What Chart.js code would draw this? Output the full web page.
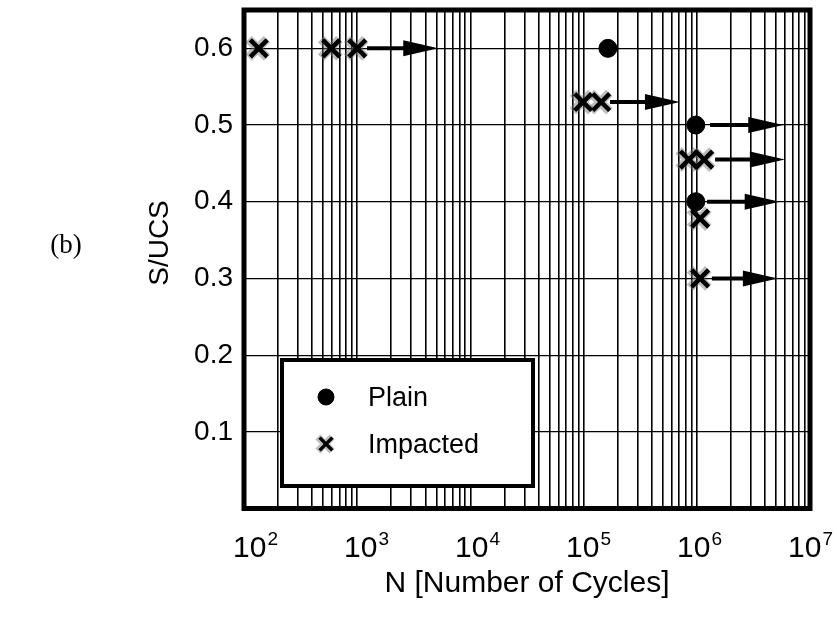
<!DOCTYPE html>
<html>
<head>
<meta charset="utf-8">
<title>S/UCS vs N</title>
<script src="https://cdn.jsdelivr.net/npm/chart.js@4.4.1/dist/chart.umd.min.js"></script>
<style>
  body { margin: 0; background: #fff; }
  canvas { display: block; }
</style>
</head>
<body>
<canvas id="fatigue-chart" width="837" height="618"></canvas>
<script>
// Plain specimens
const plainN = [1.64e5, 9.8e5, 9.8e5];
const plainS = [0.6, 0.5, 0.4];

// Impacted specimens
const impactedN = [1.35e2, 5.9e2, 1.0e3, 9.9e4, 1.43e5, 8.5e5, 1.16e6, 1.07e6, 1.07e6];
const impactedS = [0.6, 0.6, 0.6, 0.53, 0.53, 0.455, 0.455, 0.378, 0.3];

// Run-outs (no failure): arrow from runoutFrom to runoutTo at level runoutS
const runoutS = [0.6, 0.53, 0.5, 0.455, 0.4, 0.3];
const runoutFrom = [1.22e3, 1.71e5, 1.31e6, 1.45e6, 1.23e6, 1.36e6];
const runoutTo = [5.2e3, 7.1e5, 5.8e6, 6.0e6, 5.4e6, 5.2e6];

// Axis ticks
const yTicks = [0.1, 0.2, 0.3, 0.4, 0.5, 0.6];
const decades = [2, 3, 4, 5, 6, 7];

const FONT = "'Liberation Sans', Arial, sans-serif";
Chart.defaults.font.family = FONT;
Chart.defaults.color = '#000';

function toPoints(xs, ys) {
  return xs.map((v, i) => ({ x: v, y: ys[i] }));
}

// log grid: 1..9 in every decade, plus the last decade line
function logGridValues() {
  const vals = [];
  decades.slice(0, -1).forEach(d => {
    for (let m = 1; m <= 9; m++) vals.push(m * Math.pow(10, d));
  });
  vals.push(Math.pow(10, decades[decades.length - 1]));
  return vals;
}

// grey halftone halo behind the impacted crosses
const markerHalo = {
  id: 'markerHalo',
  beforeDatasetsDraw(chart) {
    const { ctx } = chart;
    const meta = chart.getDatasetMeta(1);
    ctx.save();
    ctx.strokeStyle = 'rgba(110,110,110,0.45)';
    ctx.lineWidth = 9;
    meta.data.forEach(pt => {
      Chart.helpers.drawPoint(ctx, { pointStyle: 'crossRot', radius: 13, borderWidth: 9, rotation: 0 }, pt.x - 1, pt.y);
    });
    ctx.restore();
  }
};

// run-out arrows
const runoutArrows = {
  id: 'runoutArrows',
  afterDatasetsDraw(chart) {
    const { ctx, scales: { x, y } } = chart;
    const head = 35, half = 8;
    ctx.save();
    ctx.fillStyle = '#000';
    ctx.strokeStyle = '#000';
    ctx.lineWidth = 4;
    runoutS.forEach((s, i) => {
      const py = y.getPixelForValue(s);
      const x0 = x.getPixelForValue(runoutFrom[i]);
      const x1 = x.getPixelForValue(runoutTo[i]);
      ctx.beginPath();
      ctx.moveTo(x0, py);
      ctx.lineTo(x1 - head + 2, py);
      ctx.stroke();
      ctx.beginPath();
      ctx.moveTo(x1, py);
      ctx.lineTo(x1 - head, py - half);
      ctx.lineTo(x1 - head, py + half);
      ctx.closePath();
      ctx.fill();
    });
    ctx.restore();
  }
};

// frame, boxed legend, power-of-ten labels, y title and panel tag
const decorations = {
  id: 'decorations',
  afterDraw(chart) {
    const { ctx, chartArea: a, scales: { x } } = chart;
    ctx.save();

    // heavy frame round the plot
    ctx.strokeStyle = '#000';
    ctx.lineWidth = 5;
    ctx.strokeRect(a.left, a.top, a.right - a.left, a.bottom - a.top);

    // legend box
    const lx = a.left + 38, ly = a.top + 350, lw = 251, lh = 126;
    ctx.fillStyle = '#fff';
    ctx.fillRect(lx, ly, lw, lh);
    ctx.lineWidth = 4;
    ctx.strokeRect(lx, ly, lw, lh);

    ctx.font = '27px ' + FONT;
    ctx.textBaseline = 'middle';
    ctx.textAlign = 'left';
    chart.data.datasets.forEach((ds, i) => {
      const cy = ly + 37 + i * 47;
      const cx = lx + 44;
      ctx.fillStyle = '#000';
      ctx.strokeStyle = '#000';
      if (ds.pointStyle === 'crossRot') {
        ctx.strokeStyle = 'rgba(110,110,110,0.45)';
        ctx.lineWidth = 7;
        Chart.helpers.drawPoint(ctx, { pointStyle: 'crossRot', radius: 10, borderWidth: 7, rotation: 0 }, cx - 1, cy);
        ctx.strokeStyle = '#000';
        ctx.lineWidth = 3.5;
        Chart.helpers.drawPoint(ctx, { pointStyle: 'crossRot', radius: 9, borderWidth: 3.5, rotation: 0 }, cx, cy);
      } else {
        ctx.lineWidth = 1;
        Chart.helpers.drawPoint(ctx, { pointStyle: 'circle', radius: 8, borderWidth: 1, rotation: 0 }, cx, cy);
      }
      ctx.fillStyle = '#000';
      ctx.fillText(ds.label, lx + 86, cy + 2);
    });

    // x tick labels as 10 with a raised exponent; labels sit a little
    // right of their decade line at the low end
    ctx.textBaseline = 'alphabetic';
    decades.forEach((d, i) => {
      const px = x.getPixelForValue(Math.pow(10, d));
      const shift = 11 - 2.2 * i;
      ctx.font = '30px ' + FONT;
      const wBase = ctx.measureText('10').width;
      ctx.font = '19px ' + FONT;
      const wExp = ctx.measureText(String(d)).width;
      const start = px + shift - (wBase + wExp) / 2;
      ctx.font = '30px ' + FONT;
      ctx.fillText('10', start, 557);
      ctx.font = '19px ' + FONT;
      ctx.fillText(String(d), start + wBase + 1, 545);
    });

    // y axis title, rotated
    ctx.save();
    ctx.translate(160, 243);
    ctx.rotate(-Math.PI / 2);
    ctx.font = '28px ' + FONT;
    ctx.textAlign = 'center';
    ctx.textBaseline = 'middle';
    ctx.fillText('S/UCS', 0, 0);
    ctx.restore();

    // panel tag
    ctx.font = "27px 'Liberation Serif', 'Times New Roman', serif";
    ctx.textAlign = 'center';
    ctx.textBaseline = 'middle';
    ctx.fillText('(b)', 66, 246);

    ctx.restore();
  }
};

new Chart(document.getElementById('fatigue-chart'), {
  type: 'scatter',
  data: {
    datasets: [
      {
        label: 'Plain',
        data: toPoints(plainN, plainS),
        pointStyle: 'circle',
        pointRadius: 9,
        pointBackgroundColor: '#000',
        pointBorderColor: '#000',
        pointBorderWidth: 1
      },
      {
        label: 'Impacted',
        data: toPoints(impactedN, impactedS),
        pointStyle: 'crossRot',
        pointRadius: 12,
        pointBorderColor: '#000',
        pointBorderWidth: 4.5
      }
    ]
  },
  options: {
    responsive: false,
    animation: false,
    layout: {
      autoPadding: false,
      padding: { top: 10, right: 27, left: 0, bottom: 0 }
    },
    plugins: {
      legend: { display: false },
      tooltip: { enabled: false }
    },
    scales: {
      x: {
        type: 'logarithmic',
        min: 1e2,
        max: 1e7,
        afterBuildTicks: scale => {
          scale.ticks = logGridValues().map(v => ({ value: v }));
        },
        afterFit: scale => {
          scale.height = 109.5;
          scale.paddingLeft = 0;
          scale.paddingRight = 0;
        },
        ticks: { display: false },
        grid: { color: '#000', lineWidth: 1.6, drawTicks: false },
        border: { display: false },
        title: {
          display: true,
          text: 'N [Number of Cycles]',
          font: { size: 30 },
          padding: { top: 0, bottom: 16 }
        }
      },
      y: {
        min: 0,
        max: 0.65,
        afterBuildTicks: scale => {
          scale.ticks = yTicks.map(v => ({ value: v }));
        },
        afterFit: scale => {
          scale.width = 244;
          scale.paddingTop = 0;
          scale.paddingBottom = 0;
        },
        ticks: {
          font: { size: 28 },
          padding: 11,
          callback: v => Number(v).toFixed(1)
        },
        grid: { color: '#000', lineWidth: 1.2, drawTicks: false },
        border: { display: false }
      }
    }
  },
  plugins: [markerHalo, runoutArrows, decorations]
});
</script>
</body>
</html>
